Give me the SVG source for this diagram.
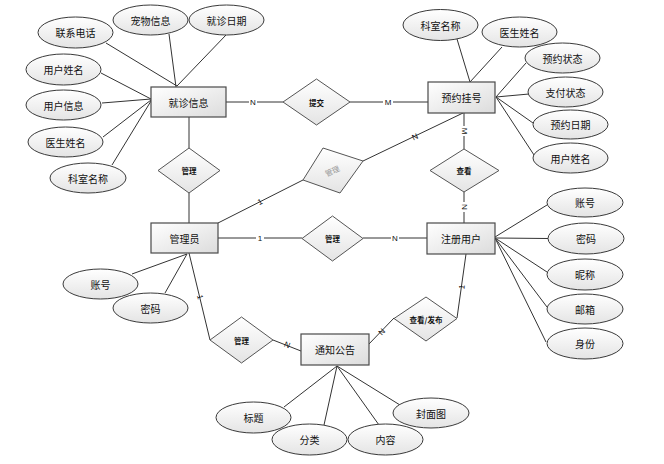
<svg xmlns="http://www.w3.org/2000/svg" width="664" height="464" viewBox="0 0 664 464">
<defs>
<linearGradient id="g" x1="0" y1="0" x2="0" y2="1">
<stop offset="0" stop-color="#ffffff"/>
<stop offset="1" stop-color="#e4e4e4"/>
</linearGradient>
<linearGradient id="gr" x1="0" y1="0" x2="1" y2="1">
<stop offset="0" stop-color="#ffffff"/>
<stop offset="1" stop-color="#dcdcdc"/>
</linearGradient>
</defs>
<style>
text{font-family:"Noto Sans CJK SC","Noto Sans",sans-serif;fill:#111;text-anchor:middle;dominant-baseline:central}
.att ellipse{fill:url(#g);stroke:#3a3a3a;stroke-width:1}
.att text,.ent text{font-size:10px}
.ent rect{fill:url(#gr);stroke:#4a4a4a;stroke-width:1.2}
.rel polygon{fill:url(#g);stroke:#555;stroke-width:1}
.rel text{font-size:7.5px;font-weight:bold}
#connectors line{stroke:#333;stroke-width:1;fill:none}
.lbl{font-size:8px;font-family:"Liberation Sans",sans-serif}
</style>
<rect width="664" height="464" fill="#ffffff"/>
<g id="connectors">
<line x1="106" y1="43" x2="177" y2="86"/>
<line x1="169" y1="34" x2="176" y2="87"/>
<line x1="226" y1="35" x2="177" y2="86"/>
<line x1="101" y1="73" x2="151" y2="99"/>
<line x1="102" y1="103" x2="151" y2="99"/>
<line x1="103" y1="137" x2="151" y2="100"/>
<line x1="112" y1="165" x2="151" y2="101"/>
<line x1="226" y1="102" x2="283" y2="102"/>
<line x1="350" y1="102" x2="428" y2="102"/>
<line x1="189" y1="117" x2="189" y2="148"/>
<line x1="189" y1="193" x2="189" y2="223"/>
<line x1="218" y1="223" x2="303" y2="180"/>
<line x1="363" y1="161" x2="463" y2="113"/>
<line x1="218" y1="238" x2="302" y2="238"/>
<line x1="363" y1="238" x2="427" y2="238"/>
<line x1="464" y1="113" x2="464" y2="149"/>
<line x1="464" y1="192" x2="464" y2="223"/>
<line x1="466" y1="254" x2="457" y2="318"/>
<line x1="394" y1="318" x2="368" y2="345"/>
<line x1="189" y1="253" x2="210" y2="340"/>
<line x1="273" y1="340" x2="301" y2="351"/>
<line x1="457" y1="39" x2="470" y2="82"/>
<line x1="502" y1="47" x2="470" y2="82"/>
<line x1="526" y1="63" x2="496" y2="97"/>
<line x1="529" y1="94" x2="496" y2="97"/>
<line x1="533" y1="123" x2="496" y2="97"/>
<line x1="534" y1="155" x2="496" y2="97"/>
<line x1="132" y1="274" x2="187" y2="254"/>
<line x1="165" y1="293" x2="187" y2="254"/>
<line x1="547" y1="205" x2="495" y2="237"/>
<line x1="548" y1="238.5" x2="495" y2="238"/>
<line x1="547" y1="272" x2="495" y2="238"/>
<line x1="547" y1="307" x2="495" y2="238"/>
<line x1="546" y1="342" x2="495" y2="238"/>
<line x1="284" y1="407" x2="337" y2="366"/>
<line x1="324" y1="425" x2="337" y2="366"/>
<line x1="379" y1="425" x2="337" y2="366"/>
<line x1="400" y1="405" x2="337" y2="366"/>
</g>
<g id="edge-labels">
<rect x="249" y="97" width="8" height="10" fill="#fff"/>
<text class="lbl" x="253" y="102">N</text>
<rect x="383" y="97" width="10" height="10" fill="#fff"/>
<text class="lbl" x="388" y="102">M</text>
<text class="lbl" x="260" y="202" transform="rotate(-27 260 202)">1</text>
<text class="lbl" x="415" y="137" transform="rotate(-25 415 137)">N</text>
<rect x="256" y="234" width="8" height="10" fill="#fff"/>
<text class="lbl" x="260" y="238.5">1</text>
<rect x="391" y="234" width="8" height="10" fill="#fff"/>
<text class="lbl" x="395" y="238.5">N</text>
<rect x="459" y="126" width="10" height="10" fill="#fff"/>
<text class="lbl" x="464" y="131" transform="rotate(90 464 131)">M</text>
<rect x="459" y="202" width="10" height="10" fill="#fff"/>
<text class="lbl" x="464" y="207" transform="rotate(90 464 207)">N</text>
<text class="lbl" x="462" y="287" transform="rotate(-82 462 287)">1</text>
<text class="lbl" x="382" y="332" transform="rotate(-47 382 332)">N</text>
<text class="lbl" x="200" y="297" transform="rotate(76 200 297)">1</text>
<text class="lbl" x="287" y="345" transform="rotate(22 287 345)">N</text>
</g>
<g id="n-jiuzhen" class="ent"><rect x="151" y="87" width="75" height="30"/><text x="188.5" y="102">就诊信息</text></g>
<g id="n-yuyue" class="ent"><rect x="428" y="82" width="67" height="31"/><text x="461.5" y="97.5">预约挂号</text></g>
<g id="n-admin" class="ent"><rect x="151" y="223" width="67" height="30"/><text x="184.5" y="238">管理员</text></g>
<g id="n-user" class="ent"><rect x="427" y="223" width="68" height="31"/><text x="461" y="238.5">注册用户</text></g>
<g id="n-notice" class="ent"><rect x="301" y="334" width="68" height="31"/><text x="335" y="349.5">通知公告</text></g>
<g id="r-tijiao" class="rel"><polygon points="316.5,79 350,102 316.5,125 283,102"/><text x="316.5" y="102">提交</text></g>
<g id="r-guanli1" class="rel"><polygon points="189,148 220,170.5 189,193 158,170.5"/><text x="189" y="170.5">管理</text></g>
<g id="r-guanli2" class="rel"><polygon points="323,148 363,161 340,193 303,180"/><text x="332" y="170.5" transform="rotate(-25 332 170.5)" style="fill:#999;font-weight:normal">管理</text></g>
<g id="r-guanli3" class="rel"><polygon points="332.5,216 363,238.5 332.5,261 302,238.5"/><text x="332.5" y="238.5">管理</text></g>
<g id="r-chakan" class="rel"><polygon points="464,149 499,170.5 464,192 430,170.5"/><text x="464" y="170.5">查看</text></g>
<g id="r-guanli4" class="rel"><polygon points="241.5,317 273,340 241.5,363 210,340"/><text x="241.5" y="340">管理</text></g>
<g id="r-chakanfabu" class="rel"><polygon points="426,297 457,318.5 426,341 394,318.5"/><text x="426" y="319">查看/发布</text></g>
<g id="a-lianxi" class="att"><ellipse cx="75.5" cy="32.5" rx="37.5" ry="15.5"/><text x="75.5" y="32.5">联系电话</text></g>
<g id="a-chongwu" class="att"><ellipse cx="150.5" cy="20" rx="37.5" ry="15"/><text x="150.5" y="20">宠物信息</text></g>
<g id="a-jzrq" class="att"><ellipse cx="226.5" cy="20" rx="37.5" ry="15"/><text x="226.5" y="20">就诊日期</text></g>
<g id="a-yhxm1" class="att"><ellipse cx="63.5" cy="69.5" rx="37.5" ry="15.5"/><text x="63.5" y="69.5">用户姓名</text></g>
<g id="a-yhxx" class="att"><ellipse cx="63.5" cy="105" rx="37.5" ry="15"/><text x="63.5" y="105">用户信息</text></g>
<g id="a-ysxm1" class="att"><ellipse cx="65.5" cy="142" rx="37.5" ry="15"/><text x="65.5" y="142">医生姓名</text></g>
<g id="a-ksmc1" class="att"><ellipse cx="88" cy="178" rx="38" ry="15"/><text x="88" y="178">科室名称</text></g>
<g id="a-ksmc2" class="att"><ellipse cx="440.5" cy="25" rx="37.5" ry="15.5"/><text x="440.5" y="25">科室名称</text></g>
<g id="a-ysxm2" class="att"><ellipse cx="519.5" cy="32" rx="37.5" ry="15"/><text x="519.5" y="32">医生姓名</text></g>
<g id="a-yyzt" class="att"><ellipse cx="562.5" cy="58" rx="37.5" ry="15"/><text x="562.5" y="58">预约状态</text></g>
<g id="a-zfzt" class="att"><ellipse cx="565.5" cy="92" rx="37.5" ry="15"/><text x="565.5" y="92">支付状态</text></g>
<g id="a-yyrq" class="att"><ellipse cx="570.5" cy="124.5" rx="37.5" ry="14.5"/><text x="570.5" y="124.5">预约日期</text></g>
<g id="a-yhxm2" class="att"><ellipse cx="570.5" cy="158" rx="37.5" ry="15"/><text x="570.5" y="158">用户姓名</text></g>
<g id="a-zh1" class="att"><ellipse cx="100.5" cy="284" rx="37.5" ry="15"/><text x="100.5" y="284">账号</text></g>
<g id="a-mm1" class="att"><ellipse cx="150.5" cy="308" rx="37.5" ry="15"/><text x="150.5" y="308">密码</text></g>
<g id="a-zh2" class="att"><ellipse cx="585" cy="202.5" rx="38" ry="14.5"/><text x="585" y="202.5">账号</text></g>
<g id="a-mm2" class="att"><ellipse cx="586" cy="238.5" rx="38" ry="15.5"/><text x="586" y="238.5">密码</text></g>
<g id="a-nc" class="att"><ellipse cx="585" cy="274.5" rx="38" ry="15.5"/><text x="585" y="274.5">昵称</text></g>
<g id="a-yx" class="att"><ellipse cx="585" cy="309" rx="38" ry="15"/><text x="585" y="309">邮箱</text></g>
<g id="a-sf" class="att"><ellipse cx="585" cy="343.5" rx="38" ry="15.5"/><text x="585" y="343.5">身份</text></g>
<g id="a-bt" class="att"><ellipse cx="253.5" cy="417.5" rx="37.5" ry="15.5"/><text x="253.5" y="417.5">标题</text></g>
<g id="a-fl" class="att"><ellipse cx="309.5" cy="439.5" rx="37.5" ry="15.5"/><text x="309.5" y="439.5">分类</text></g>
<g id="a-nr" class="att"><ellipse cx="385.5" cy="439.5" rx="37.5" ry="15.5"/><text x="385.5" y="439.5">内容</text></g>
<g id="a-fmt" class="att"><ellipse cx="431" cy="413" rx="38" ry="15"/><text x="431" y="413">封面图</text></g>
</svg>
